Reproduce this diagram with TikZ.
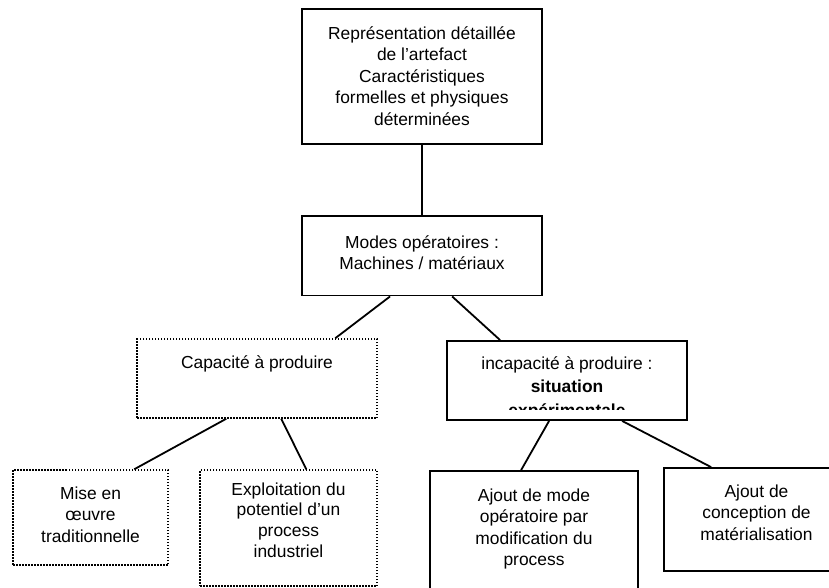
\documentclass[tikz,border=0pt]{standalone}
\usepackage{fontspec}
\setmainfont{Liberation Sans}
\usetikzlibrary{calc}
\begin{document}
\begin{tikzpicture}[x=1pt,y=-1pt,
  box/.style={draw, line width=1.8pt, inner sep=0pt, rectangle},
  dotbox/.style={draw, line width=1.5pt, dash pattern=on 1.5pt off 1.5pt, inner sep=0pt, rectangle},
  txt/.style={align=center, inner sep=0pt, anchor=base, font=\fontsize{17.4}{21.3}\selectfont},
  link/.style={line width=1.8pt}]
\useasboundingbox (0,0) rectangle (829,587);
\clip (0,0) rectangle (829,587);
% boxes
\node[box, minimum width=240pt, minimum height=135pt] (top) at (422,76.5) {};
\node[box, minimum width=240pt, minimum height=79.5pt] (modes) at (422,255.75) {};
\node[dotbox, minimum width=240pt, minimum height=79pt] (cap) at (257,378.5) {};
\node[box, minimum width=240pt, minimum height=79pt] (incap) at (567,380.5) {};
\node[dotbox, minimum width=155pt, minimum height=95pt] (mise) at (90.5,517.5) {};
\node[dotbox, minimum width=177pt, minimum height=116pt] (expl) at (288.5,528) {};
\node[box, minimum width=208pt, minimum height=149pt] (ajout) at (534,545.5) {};
\node[box, minimum width=186pt, minimum height=103pt] (conc) at (757,519.5) {};
% texts (anchored at the baseline of their last line)
\node[txt, font=\fontsize{17.4}{21.4}\selectfont] (toptxt) at (422,125) {Représentation détaillée\\de l’artefact\\Caractéristiques\\formelles et physiques\\déterminées};
\node[txt] (modestxt) at (422,269.3) {Modes opératoires :\\Machines / matériaux};
\node[txt] (captxt) at (257,368) {Capacité à produire};
\begin{scope}
  \clip (440,330) rectangle (700,409.5);
  \node[txt, font=\fontsize{17.4}{23.4}\selectfont] (incaptxt) at (567,416.1) {incapacité à produire :\\\textbf{situation}\\\textbf{expérimentale}};
\end{scope}
\node[txt] (misetxt) at (90.5,542) {Mise en\\œuvre\\traditionnelle};
\node[txt, font=\fontsize{17.4}{20.8}\selectfont] (expltxt) at (288.5,557.4) {Exploitation du\\potentiel d’un\\process\\industriel};
\node[txt] (ajouttxt) at (534,565.5) {Ajout de mode\\opératoire par\\modification du\\process};
\node[txt, font=\fontsize{17.4}{21.7}\selectfont] (conctxt) at (756.5,540.4) {Ajout de\\conception de\\matérialisation};
% connectors
\draw[link] (top.south) -- (modes.north);
\draw[link] ($(modes.south west)+(89,0)$) -- ($(cap.north west)+(199,0)$);
\draw[link] ($(modes.south west)+(151,0)$) -- ($(incap.north west)+(54,0)$);
\draw[link] ($(cap.south west)+(90,0)$) -- ($(mise.north west)+(122,0)$);
\draw[link] ($(cap.south west)+(145,0)$) -- ($(expl.north west)+(107,0)$);
\draw[link] ($(incap.south west)+(103,0)$) -- ($(ajout.north west)+(92,0)$);
\draw[link] ($(incap.south west)+(176,0)$) -- ($(conc.north west)+(48,0)$);
\end{tikzpicture}
\end{document}
